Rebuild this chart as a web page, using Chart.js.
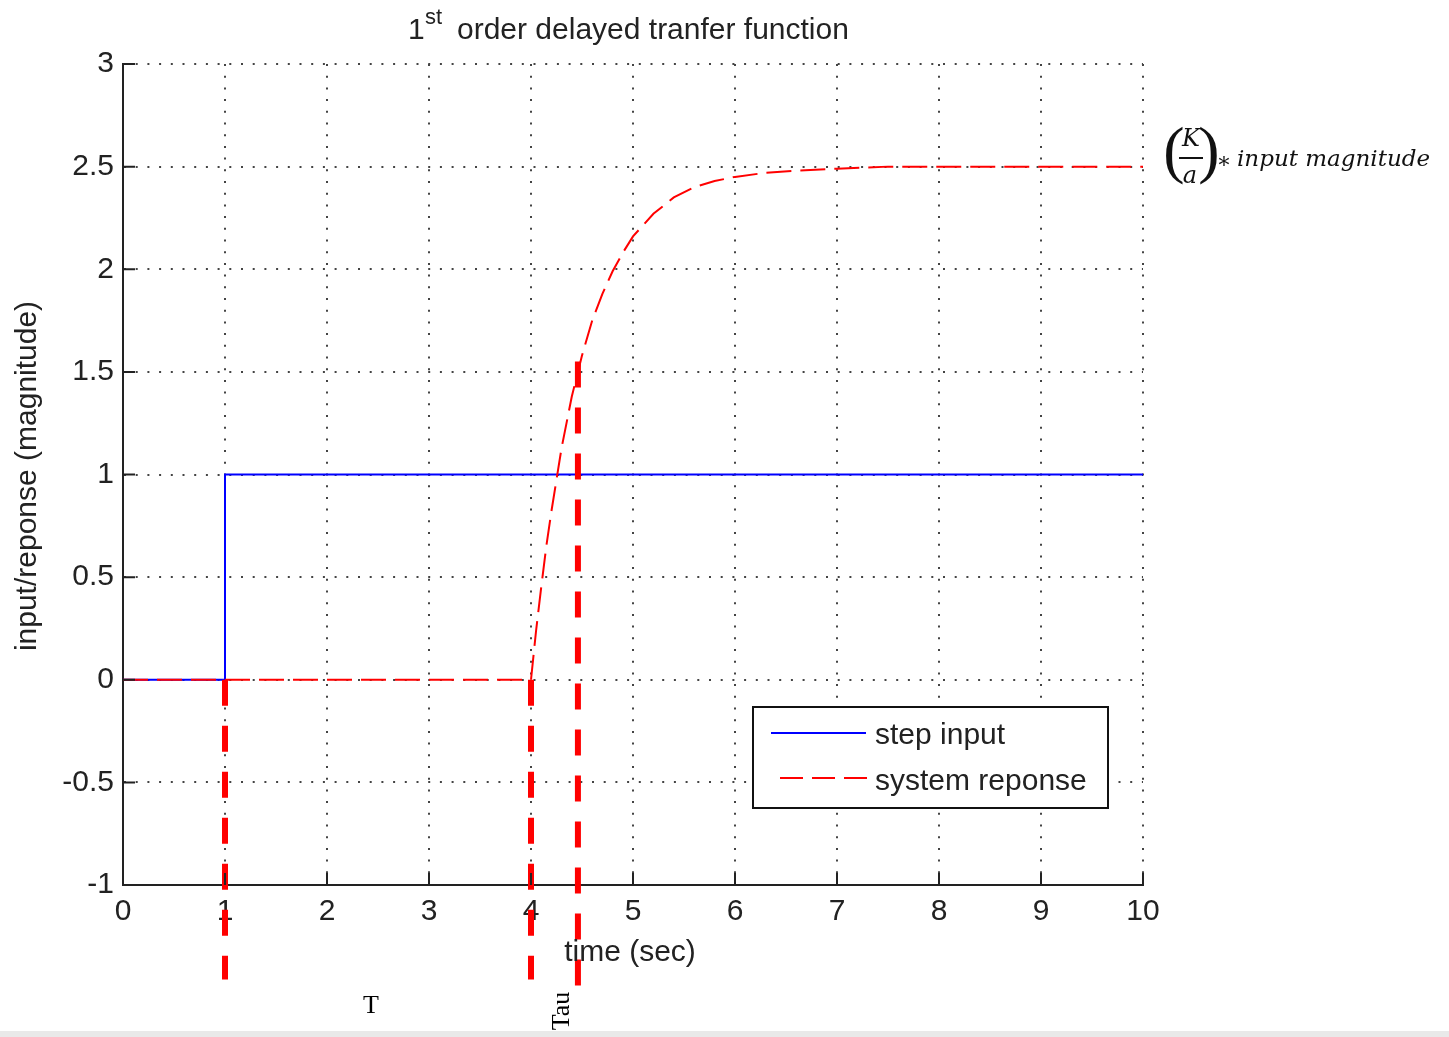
<!DOCTYPE html>
<html>
<head>
<meta charset="utf-8">
<script src="https://cdn.jsdelivr.net/npm/chart.js@4.4.0/dist/chart.umd.min.js"></script>
<style>
  html, body { margin: 0; padding: 0; background: #fff; }
  #wrap { width: 1449px; height: 1037px; }
</style>
</head>
<body>
<div id="wrap"><canvas id="c"></canvas></div>
<script>
// values
const stepTime  = [0, 1, 1, 10];
const stepValue = [0, 0, 1, 1];

const respTime  = [0, 4, 4.05, 4.1, 4.15, 4.2, 4.3, 4.4, 4.5, 4.6, 4.7, 4.8, 4.9, 5.0, 5.2, 5.4, 5.6, 5.8, 6.0, 6.3, 6.6, 7.0, 7.5, 8.0, 10];
const respValue = [0, 0, 0.24, 0.45, 0.65, 0.82, 1.13, 1.38, 1.58, 1.75, 1.88, 1.99, 2.08, 2.16, 2.27, 2.35, 2.40, 2.43, 2.45, 2.47, 2.48, 2.49, 2.50, 2.50, 2.50];

// thick red markers: delay start, delay end, time constant
const markTime   = [1, 4, 4.46];
const markTop    = [0, 0, 1.55];
const markBottom = [-1.46, -1.46, -1.51];

const xTickLabels = ["0", "1", "2", "3", "4", "5", "6", "7", "8", "9", "10"];
const yTickLabels = ["-1", "-0.5", "0", "0.5", "1", "1.5", "2", "2.5", "3"];

const SANS = '"Liberation Sans", Arial, sans-serif';
const SERIF = '"Liberation Serif", "DejaVu Serif", serif';
const MATH = '"DejaVu Serif", "Liberation Serif", serif';

const toPoints = (xs, ys) => xs.map((x, i) => ({ x, y: ys[i] }));

const markSets = markTime.map((t, i) => ({
  label: "mark" + i,
  data: [{ x: t, y: markTop[i] }, { x: t, y: markBottom[i] }],
  borderColor: "#ff0000",
  borderWidth: 6,
  borderDash: [26, 20],
  pointRadius: 0,
  clip: false,
  order: 0
}));

// white page + grey strip at the very bottom
const pagePlugin = {
  id: "page",
  beforeDraw(chart) {
    const { ctx, width, height } = chart;
    ctx.save();
    ctx.fillStyle = "#fff";
    ctx.fillRect(0, 0, width, height);
    ctx.fillStyle = "#e9e9e9";
    ctx.fillRect(0, height - 6, width, 6);
    ctx.restore();
  }
};

// inward tick marks, matlab style
const tickPlugin = {
  id: "inticks",
  afterDraw(chart) {
    const { ctx, chartArea: a, scales: { x, y } } = chart;
    ctx.save();
    ctx.strokeStyle = "#222";
    ctx.lineWidth = 2;
    ctx.beginPath();
    xTickLabels.forEach((_, i) => {
      const px = x.getPixelForValue(i);
      ctx.moveTo(px, a.bottom);
      ctx.lineTo(px, a.bottom - 12);
    });
    yTickLabels.forEach(l => {
      const py = y.getPixelForValue(parseFloat(l));
      ctx.moveTo(a.left, py);
      ctx.lineTo(a.left + 12, py);
    });
    ctx.stroke();
    ctx.restore();
  }
};

// titles, legend box and the hand-written notes
const textPlugin = {
  id: "texts",
  afterDraw(chart) {
    const { ctx } = chart;
    ctx.save();
    ctx.fillStyle = "#222";
    ctx.textBaseline = "alphabetic";

    // title with superscript
    ctx.textAlign = "left";
    ctx.font = "30px " + SANS;
    ctx.fillText("1", 408, 39);
    ctx.font = "22px " + SANS;
    ctx.fillText("st", 425, 24);
    ctx.font = "30px " + SANS;
    ctx.fillText("order delayed tranfer function", 457, 39);

    // axis titles
    ctx.font = "30px " + SANS;
    ctx.textAlign = "center";
    ctx.textBaseline = "middle";
    ctx.fillText("time (sec)", 630, 953);
    ctx.save();
    ctx.translate(28, 476);
    ctx.rotate(-Math.PI / 2);
    ctx.fillText("input/reponse (magnitude)", 0, 0);
    ctx.restore();

    // legend
    ctx.fillStyle = "#fff";
    ctx.fillRect(753, 707, 355, 101);
    ctx.strokeStyle = "#111";
    ctx.lineWidth = 2;
    ctx.strokeRect(753, 707, 355, 101);
    ctx.strokeStyle = "#0000ff";
    ctx.beginPath(); ctx.moveTo(771, 733); ctx.lineTo(866, 733); ctx.stroke();
    ctx.strokeStyle = "#ff0000";
    ctx.setLineDash([23, 9]);
    ctx.beginPath(); ctx.moveTo(780, 778); ctx.lineTo(867, 778); ctx.stroke();
    ctx.setLineDash([]);
    ctx.fillStyle = "#222";
    ctx.textAlign = "left";
    ctx.fillText("step input", 875, 736);
    ctx.fillText("system reponse", 875, 782);

    // (K/a) * input magnitude
    ctx.fillStyle = "#111";
    ctx.font = "64px " + SERIF;
    ctx.textAlign = "center";
    ctx.fillText("(", 1174, 154);
    ctx.fillText(")", 1209, 154);
    ctx.font = "italic 24px " + MATH;
    ctx.fillText("K", 1191, 140);
    ctx.fillText("a", 1190, 177);
    ctx.fillRect(1179, 157, 24, 2);
    ctx.font = "22px " + MATH;
    ctx.fillText("\u2217", 1224, 162);
    ctx.textAlign = "left";
    ctx.font = "italic 23px " + MATH;
    ctx.fillText("input magnitude", 1237, 160);

    // T and Tau notes under the axis
    ctx.fillStyle = "#000";
    ctx.font = "26px " + SERIF;
    ctx.textAlign = "center";
    ctx.fillText("T", 371, 1006);
    ctx.save();
    ctx.translate(562, 1011);
    ctx.rotate(-Math.PI / 2);
    ctx.fillText("Tau", 0, 0);
    ctx.restore();

    ctx.restore();
  }
};

new Chart(document.getElementById("c"), {
  type: "line",
  data: {
    datasets: [
      {
        label: "system reponse",
        data: toPoints(respTime, respValue),
        borderColor: "#ff0000",
        borderWidth: 2,
        borderDash: [25, 9],
        pointRadius: 0,
        tension: 0,
        order: 1
      },
      {
        label: "step input",
        data: toPoints(stepTime, stepValue),
        borderColor: "#0000ff",
        borderWidth: 2,
        pointRadius: 0,
        tension: 0,
        order: 2
      },
      ...markSets
    ]
  },
  options: {
    responsive: true,
    maintainAspectRatio: false,
    animation: false,
    layout: { padding: { left: 0, top: 64, right: 306, bottom: 0 } },
    scales: {
      x: {
        type: "linear",
        min: 0,
        max: 10,
        afterFit: s => { s.height = 152; },
        afterBuildTicks: s => { s.ticks = xTickLabels.map(l => ({ value: parseFloat(l) })); },
        ticks: {
          callback: (v, i) => xTickLabels[i],
          font: { family: SANS, size: 30 },
          color: "#222",
          padding: 9,
          maxRotation: 0,
          autoSkip: false
        },
        grid: { color: "#444", lineWidth: 2, drawTicks: false },
        border: { display: true, color: "#222", width: 2, dash: [2, 9.7] }
      },
      y: {
        type: "linear",
        min: -1,
        max: 3,
        afterFit: s => { s.width = 123; },
        afterBuildTicks: s => { s.ticks = yTickLabels.map(l => ({ value: parseFloat(l) })); },
        ticks: {
          callback: (v, i) => yTickLabels[i],
          font: { family: SANS, size: 30 },
          color: "#222",
          padding: 9,
          autoSkip: false
        },
        grid: { color: "#444", lineWidth: 2, drawTicks: false },
        border: { display: true, color: "#222", width: 2, dash: [2, 9.7] }
      }
    },
    plugins: {
      legend: { display: false },
      title: { display: false },
      tooltip: { enabled: false }
    }
  },
  plugins: [pagePlugin, tickPlugin, textPlugin]
});
</script>
</body>
</html>
